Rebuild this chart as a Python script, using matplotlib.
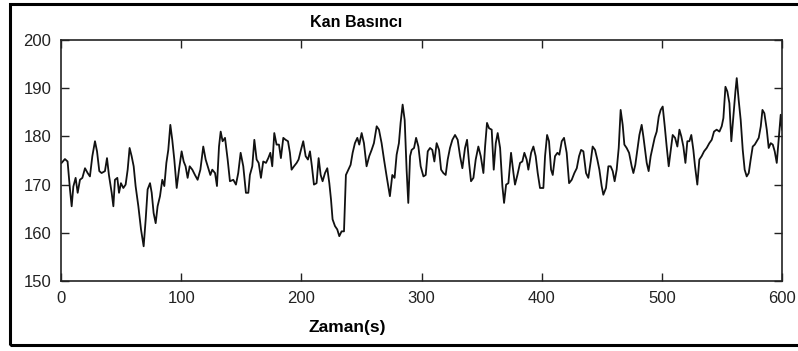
import matplotlib
matplotlib.use("Agg")
import matplotlib.pyplot as plt
from matplotlib.patches import Rectangle

# Blood pressure trace, time in seconds
t = [0.5, 3.3, 5.5, 7.5, 8.9, 10.3, 12.2, 13.9, 15.8, 17.8, 20.0, 22.2, 24.1, 26.1,
     28.3, 30.0, 31.9, 33.8, 36.6, 38.3, 39.9, 42.2, 43.6, 44.9, 46.9, 48.3, 49.9,
     51.9, 53.8, 55.5, 57.1, 58.8, 60.5, 62.1, 64.4, 66.6, 68.8, 70.5, 72.1, 74.1,
     75.5, 77.1, 78.8, 80.4, 82.4, 84.3, 86.0, 87.7, 89.3, 91.0, 92.6, 94.3, 96.3,
     98.2, 100.4, 102.1, 103.7, 105.4, 107.1, 109.3, 111.5, 113.7, 116.0, 118.4,
     120.4, 122.6, 124.3, 125.9, 128.2, 129.8, 131.5, 132.9, 134.5, 136.5, 138.7,
     140.6, 143.4,
     145.6, 147.5, 149.5, 151.7, 153.9, 155.9, 157.2, 159.2, 160.9, 162.8, 164.5,
     166.4, 168.3, 170.6, 172.5, 174.2, 175.8, 177.5, 179.4, 181.4, 183.0, 185.0,
     186.9, 188.9, 190.5, 191.9, 193.9, 196.1, 197.7, 199.7, 201.6, 203.6, 205.5,
     207.2, 208.8, 210.5, 212.7, 214.4, 216.1, 217.7, 219.7, 221.6, 223.3, 224.7,
     226.0, 228.0, 229.9, 231.6, 233.5, 235.5, 237.1, 239.1, 241.0, 242.7, 244.6,
     246.6, 248.2, 250.2, 252.1, 254.3, 256.5, 258.5, 260.4, 262.7, 264.6, 266.8,
     268.8, 271.0, 273.7, 275.7, 277.6, 279.3, 281.2, 282.6, 284.3, 286.0, 287.6,
     289.0,
     290.5, 291.8, 293.8, 295.5, 297.4, 299.3, 301.6, 303.5, 305.2, 307.1, 309.0,
     310.7, 312.6, 314.6, 316.3, 318.2, 320.1, 321.8, 323.7, 325.7, 327.9, 330.1,
     332.1, 334.0, 336.2, 337.9, 339.6, 341.2, 343.2, 345.1, 347.3, 349.3, 351.5,
     352.9, 354.5, 356.2, 358.4, 360.1, 361.8, 363.4, 365.4, 367.3, 368.7, 370.4,
     372.3, 374.5, 376.5, 377.8, 379.8, 382.0, 383.9, 385.6, 387.5, 388.9, 391.2,
     393.1, 395.0, 396.7, 398.6, 401.4, 402.8, 404.5, 406.1, 407.8, 409.2, 411.1,
     413.1, 414.7, 416.7, 418.6, 420.8, 422.8, 425.0, 427.2, 429.2, 431.1, 432.8,
     434.7, 436.9, 438.8, 440.8, 442.4, 444.4, 446.3, 448.0, 449.9, 451.3, 453.5,
     455.5, 457.4, 459.1, 460.7, 462.4, 464.1, 465.7, 467.4, 468.8, 470.7, 472.7,
     474.9, 476.3, 477.9, 479.6, 481.3, 483.2, 484.6, 486.3, 487.4, 489.0, 490.7,
     492.4, 494.0, 495.7, 497.4, 499.0, 500.7, 502.4, 504.0, 505.7, 507.4, 509.0,
     511.0, 512.9, 514.6, 516.2, 517.9, 519.6, 521.2, 522.9, 524.5, 526.2, 527.6,
     529.5, 531.2, 533.1, 535.1, 537.3, 539.5, 541.5, 543.4, 545.6, 547.9, 549.8,
     551.2, 552.9, 554.5, 556.2, 557.8, 559.5, 561.2, 562.3, 563.9, 565.6, 567.3,
     568.9, 570.6, 572.3, 573.9, 575.6, 577.3, 578.9, 580.6, 582.3, 583.7, 585.3,
     587.3, 588.9, 590.6, 592.3, 593.9, 595.6, 597.2, 598.9, 600.0]

pressure = [174.5, 175.3, 174.8, 169.0, 165.5, 169.6, 171.4, 168.3, 171.0, 171.4,
            173.4, 172.4, 171.7, 175.9, 179.0, 176.9, 172.8, 172.4, 172.8, 175.5,
            172.0, 168.3, 165.5, 171.0, 171.4, 168.3, 170.3, 169.3, 170.0, 173.1,
            177.6, 175.9, 173.8, 169.7, 165.5, 160.7, 157.2, 162.8, 169.0, 170.3,
            168.3, 164.1, 162.0, 165.5, 167.6, 171.0, 169.7, 174.5, 177.2, 182.4,
            179.3, 175.2, 169.3, 173.1, 176.9, 174.8, 173.8, 171.4, 173.8, 173.1,
            172.0, 171.0, 173.1, 177.9, 175.2, 173.4, 172.0, 173.1, 172.4, 169.7,
            177.9, 181.0, 179.0, 179.7, 175.2, 170.7, 171.0,
            170.0, 172.4, 176.6, 173.8, 168.3, 168.3, 172.0, 173.8, 179.3, 175.2,
            174.5, 171.4, 174.8, 174.5, 175.5, 176.6, 173.8, 180.7, 178.3, 178.3,
            175.5, 179.7, 179.3, 179.0, 176.6, 173.1, 173.8, 174.5, 175.2, 177.2,
            179.0, 175.9, 175.2, 176.9, 173.8, 170.0, 170.3, 175.5, 172.0, 170.7,
            172.4, 173.4, 170.3, 166.9, 162.8, 161.4, 160.7, 159.3, 160.3, 160.3,
            172.0, 173.1, 174.1, 176.6, 178.6, 179.7, 178.3, 180.7, 178.6, 173.8,
            175.9, 177.2, 178.6, 182.1, 181.4, 178.6, 175.2, 171.7, 167.6, 172.0,
            171.4, 176.2, 178.6, 182.8, 186.6, 183.4, 173.1, 166.2,
            175.9, 177.2, 177.6, 179.7, 177.9, 173.8, 171.7, 172.0, 176.9, 177.6,
            177.2, 174.8, 178.6, 177.2, 173.1, 172.4, 172.0, 175.2, 177.6, 179.3,
            180.3, 179.3, 175.9, 173.4, 177.6, 179.3, 174.5, 170.7, 171.4, 175.2,
            177.9, 175.9, 172.4, 177.9, 182.8, 181.7, 181.4, 173.1, 178.6, 180.7,
            177.6, 169.7, 166.2, 170.0, 170.3, 176.6, 172.4, 170.0, 172.0, 174.5,
            174.8, 176.6, 175.2, 173.1, 176.6, 177.9, 175.9, 172.4, 169.3, 169.3,
            175.9, 180.3, 179.0, 173.1, 172.0, 175.9, 176.6, 176.2, 179.0, 179.7,
            176.6, 170.3, 171.0, 172.4, 173.4, 175.9, 177.2,
            176.9, 172.4, 171.4, 174.8, 177.9, 177.2, 175.2, 173.1, 169.7, 167.9,
            169.3, 173.8, 173.8, 172.8, 170.7, 173.1, 177.6, 185.5, 182.4, 178.3,
            177.6, 176.6, 173.8, 172.4, 174.1, 177.2, 180.3, 182.4, 180.0, 176.6,
            174.5, 172.8, 175.9, 177.9, 179.7, 181.0, 184.1, 185.5, 186.2, 182.1,
            177.9, 173.8, 177.2, 180.3, 179.7, 177.9, 181.4, 180.0, 177.9, 174.5,
            179.0, 179.0, 180.3, 177.2, 173.8, 170.0, 175.2, 175.9, 176.9, 177.6,
            178.6, 179.3, 181.0, 181.4, 181.0, 182.1, 183.8, 190.3, 189.3, 186.9,
            179.0, 184.1, 189.3, 192.1, 187.6, 183.4, 177.2, 173.1, 171.7, 172.4,
            175.2, 177.9, 178.3, 179.0, 179.7, 182.1, 185.5, 184.8, 181.4, 177.6,
            178.6, 178.3, 176.9, 174.5, 179.3, 184.5, 181.4]

x_ticks = [0, 100, 200, 300, 400, 500, 600]
y_ticks = [150, 160, 170, 180, 190, 200]

plt.rcParams['font.family'] = ['Liberation Sans', 'DejaVu Sans']

fig = plt.figure(figsize=(7.98, 3.51), dpi=100)
ax = fig.add_axes([0.0764, 0.1994, 0.9036, 0.6866])

ax.plot(t, pressure, color='#111111', linewidth=1.3)

ax.set_xlim(0, 600)
ax.set_ylim(150, 200)
ax.set_xticks(x_ticks)
ax.set_yticks(y_ticks)
ax.tick_params(direction='in', length=6, width=1, labelsize=12,
               top=True, right=True, pad=7, colors='#222222')
for s in ax.spines.values():
    s.set_linewidth(1.2)
    s.set_color('#222222')

fig.text(0.446, 0.937, 'Kan Basıncı', ha='center', va='center',
         fontsize=11.5, fontweight='bold')
fig.text(0.435, 0.066, 'Zaman(s)', ha='center', va='center',
         fontsize=12.5, fontweight='bold')

# frame around the figure, open on the right side
fig.patches.append(Rectangle((0.0125, 0.017), 1.05, 0.973, transform=fig.transFigure,
                             fill=False, edgecolor='black', linewidth=2.2,
                             clip_on=False))

fig.savefig('out.png', dpi=100)
